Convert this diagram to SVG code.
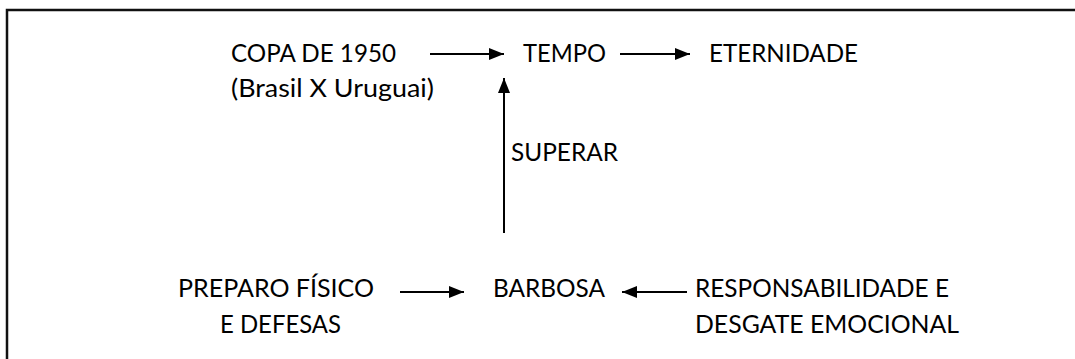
<svg xmlns="http://www.w3.org/2000/svg" width="1075" height="359" viewBox="0 0 1075 359">
<style>
text{font-family:Lato,"Open Sans","Liberation Sans",sans-serif;font-size:25px;fill:#000}
.c{stroke:#000;stroke-width:2;fill:none}
</style>
<defs>
<marker id="ah" markerWidth="15" markerHeight="12" refX="15" refY="6" orient="auto" markerUnits="userSpaceOnUse">
<path d="M0,0 L15,6 L0,12 Z" fill="#000"/>
</marker>
</defs>
<rect width="1075" height="359" fill="#fff"/>
<path d="M7,370 L7,10 L1080,10" stroke="#111" stroke-width="2.5" fill="none"/>
<g id="copa"><text x="231" y="62" textLength="165" lengthAdjust="spacingAndGlyphs">COPA DE 1950</text><text x="231" y="97" textLength="203" lengthAdjust="spacingAndGlyphs">(Brasil X Uruguai)</text></g>
<g id="tempo"><text x="523" y="62" textLength="83" lengthAdjust="spacingAndGlyphs">TEMPO</text></g>
<g id="eternidade"><text x="709" y="62" textLength="149" lengthAdjust="spacingAndGlyphs">ETERNIDADE</text></g>
<g id="superar"><text x="511" y="161" textLength="107" lengthAdjust="spacingAndGlyphs">SUPERAR</text></g>
<g id="preparo"><text x="178" y="297" textLength="196" lengthAdjust="spacingAndGlyphs">PREPARO FÍSICO</text><text x="220" y="333" textLength="121" lengthAdjust="spacingAndGlyphs">E DEFESAS</text></g>
<g id="barbosa"><text x="493" y="297" textLength="112" lengthAdjust="spacingAndGlyphs">BARBOSA</text></g>
<g id="responsabilidade"><text x="695" y="297" textLength="254" lengthAdjust="spacingAndGlyphs">RESPONSABILIDADE E</text><text x="695" y="333" textLength="264" lengthAdjust="spacingAndGlyphs">DESGATE EMOCIONAL</text></g>
<g id="connectors">
<line class="c" x1="430" y1="54" x2="504" y2="54" marker-end="url(#ah)"/>
<line class="c" x1="620" y1="54" x2="690" y2="54" marker-end="url(#ah)"/>
<line class="c" x1="504" y1="233" x2="504" y2="78" marker-end="url(#ah)"/>
<line class="c" x1="400" y1="292" x2="464" y2="292" marker-end="url(#ah)"/>
<line class="c" x1="687" y1="292" x2="622" y2="292" marker-end="url(#ah)"/>
</g>
</svg>
